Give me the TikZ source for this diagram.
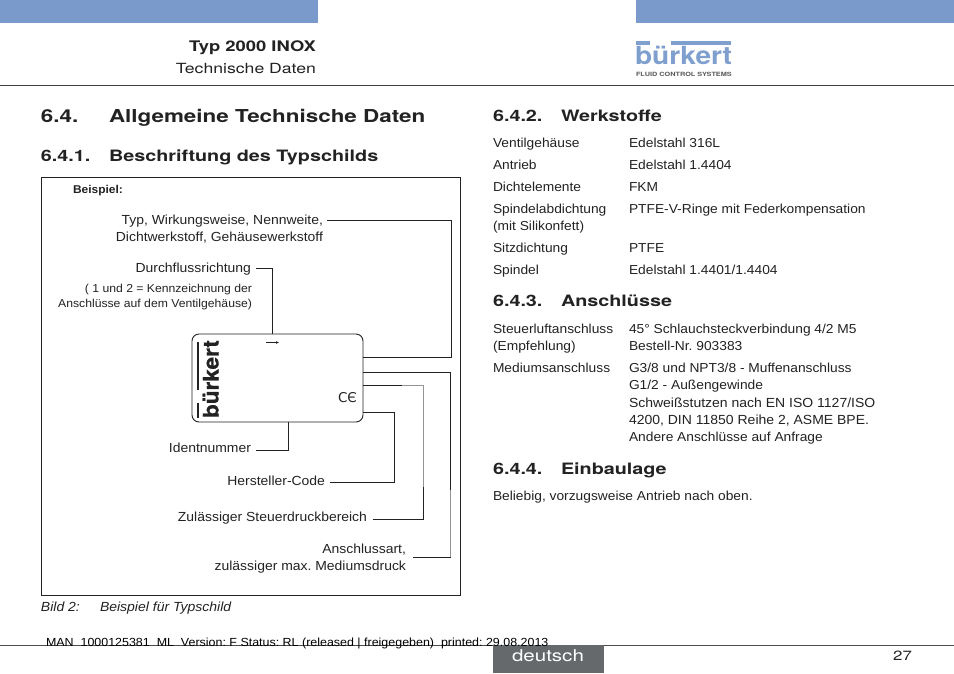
\documentclass[tikz,border=0pt]{standalone}
\usepackage{fontspec}
\usetikzlibrary{arrows.meta}
\setmainfont[FakeStretch=1.06]{Liberation Sans}
\newfontfamily\headfont[FakeStretch=1.26,BoldFont={TeX Gyre Heros Bold}]{TeX Gyre Heros}
\newfontfamily\logofont[FakeStretch=1.125]{TeX Gyre Heros Bold}
\newfontfamily\platefont[FakeStretch=1.05,FakeBold=0.6]{TeX Gyre Heros Bold}
\newfontfamily\cefont{DejaVu Sans}
\definecolor{barblue}{HTML}{7A9ACC}
\definecolor{logoblue}{HTML}{7F9FCF}
\definecolor{footgray}{HTML}{65696C}
\definecolor{ink}{HTML}{222222}
\frenchspacing
\tikzset{
 txt/.style={inner sep=0pt,outer sep=0pt,anchor=base west,text=ink,font=\fontsize{13}{15}\selectfont},
 rtxt/.style={txt,anchor=base east},
 lab/.style={rtxt,font=\fontsize{13.15}{15}\selectfont},
 small/.style={font=\fontsize{11.5}{13}\selectfont},
 head/.style={txt,font=\fontsize{17.8}{20}\headfont\bfseries},
 subhead/.style={txt,font=\fontsize{15.7}{18}\headfont\bfseries},
 lead/.style={line width=0.8pt,ink},
 leadgray/.style={line width=1.3pt,black!42},
}
\begin{document}
\begin{tikzpicture}[x=1pt,y=-1pt]
\useasboundingbox (0,0) rectangle (954,673);
% header
\fill[barblue] (0,0) rectangle (318,23);
\fill[barblue] (636,0) rectangle (954,23);
\draw[line width=0.8pt,black!75] (0,85.5) -- (954,85.5);
\node[rtxt,font=\fontsize{14.6}{15}\headfont\bfseries] (hType) at (316,51.5) {Typ 2000 INOX};
\node[rtxt,font=\fontsize{14}{15}\headfont] (hTech) at (316,73) {Technische Daten};
% header logo
\fill[logoblue] (636,41) rectangle (650,45);
\fill[logoblue] (671,41) rectangle (731,45);
\node[txt,text=logoblue,font=\fontsize{25}{26}\logofont] (hLogo) at (635,64.5) {bürkert};
\node[txt,text=black!65,font=\fontsize{5.8}{7}\headfont\bfseries] (hLogoSub) at (636,76.3) {FLUID CONTROL SYSTEMS};
% section headings
\node[head] (s64) at (41,122) {6.4.};
\node[head] (s64t) at (109,122) {Allgemeine Technische Daten};
\node[subhead] (s641) at (41,161) {6.4.1.};
\node[subhead] (s641t) at (109,161) {Beschriftung des Typschilds};
\node[subhead] (s642) at (493,121) {6.4.2.};
\node[subhead] (s642t) at (561,121) {Werkstoffe};
\node[subhead] (s643) at (493,306) {6.4.3.};
\node[subhead] (s643t) at (561,306) {Anschlüsse};
\node[subhead] (s644) at (493,474) {6.4.4.};
\node[subhead] (s644t) at (561,474) {Einbaulage};
% right column
\node[txt] (a1) at (493,147) {Ventilgehäuse};
\node[txt] (b1) at (629,147) {Edelstahl 316L};
\node[txt] (a2) at (493,169) {Antrieb};
\node[txt] (b2) at (629,169) {Edelstahl 1.4404};
\node[txt] (a3) at (493,191) {Dichtelemente};
\node[txt] (b3) at (629,191) {FKM};
\node[txt] (a4) at (493,213) {Spindelabdichtung};
\node[txt] (b4) at (629,213) {PTFE-V-Ringe mit Federkompensation};
\node[txt] (a4b) at (493,230) {(mit Silikonfett)};
\node[txt] (a5) at (493,252) {Sitzdichtung};
\node[txt] (b5) at (629,252) {PTFE};
\node[txt] (a6) at (493,274) {Spindel};
\node[txt] (b6) at (629,274) {Edelstahl 1.4401/1.4404};
\node[txt] (c1) at (493,333) {Steuerluftanschluss};
\node[txt] (d1) at (629,333) {45° Schlauchsteckverbindung 4/2 M5};
\node[txt] (c1b) at (493,350) {(Empfehlung)};
\node[txt] (d1b) at (629,350) {Bestell-Nr. 903383};
\node[txt] (c2) at (493,372) {Mediumsanschluss};
\node[txt] (d2) at (629,372) {G3/8 und NPT3/8 - Muffenanschluss};
\node[txt] (d3) at (629,389) {G1/2 - Außengewinde};
\node[txt,font=\fontsize{13.2}{15}\selectfont] (d4) at (629,407) {Schweißstutzen nach EN ISO 1127/ISO};
\node[txt,font=\fontsize{13.2}{15}\selectfont] (d5) at (629,424) {4200, DIN 11850 Reihe 2, ASME BPE.};
\node[txt] (d6) at (629,441) {Andere Anschlüsse auf Anfrage};
\node[txt] (e1) at (493,500) {Beliebig, vorzugsweise Antrieb nach oben.};
% figure frame
\draw[line width=0.9pt,ink] (41.7,177.5) rectangle (460.3,595.5);
\node[txt,font=\fontsize{11.3}{13}\selectfont\bfseries] (lBsp) at (73,193) {Beispiel:};
\node[lab] (lTyp) at (323,224.5) {Typ, Wirkungsweise, Nennweite,};
\node[lab] (lTyp2) at (323,241) {Dichtwerkstoff, Gehäusewerkstoff};
\node[lab] (lDurch) at (251,272.5) {Durchflussrichtung};
\node[rtxt,small] (lAns1) at (252,292) {( 1 und 2 = Kennzeichnung der};
\node[rtxt,small] (lAns2) at (252,307) {Anschlüsse auf dem Ventilgehäuse)};
\node[lab] (lId) at (251,452) {Identnummer};
\node[lab] (lHer) at (325,485) {Hersteller-Code};
\node[lab] (lZul) at (367,521.5) {Zulässiger Steuerdruckbereich};
\node[lab] (lAnsch) at (406,553.5) {Anschlussart,};
\node[lab] (lMax) at (406,570) {zulässiger max. Mediumsdruck};
% type plate
\node[draw=ink,line width=0.9pt,rounded corners=7pt,minimum width=171pt,minimum height=88pt,inner sep=0pt,outer sep=0pt,anchor=north west] (plate) at (192,334) {};
\fill[ink] (197,341.5) rectangle (199,390);
\fill[ink] (197,403) rectangle (199,417.5);
\node[inner sep=0pt,outer sep=0pt,rotate=90,anchor=base west,text=ink,font=\fontsize{21.5}{22}\platefont] (pLogo) at (218.5,418) {bürkert};
\coordinate (arrS) at (266,342.5);
\coordinate (arrE) at (279,342.5);
\draw[-{Latex[length=3pt,width=2.6pt]},line width=0.4pt,ink] (arrS) -- (arrE);
\node[inner sep=0pt,text=ink,font=\fontsize{13.5}{14}\cefont] (ce) at (347.5,398) {CЄ};
% bend points
\coordinate (kTyp) at (451.7,357.3);
\coordinate (kDurch) at (272.3,334);
\coordinate (kId) at (288,450);
\coordinate (kHer) at (394.3,412.3);
\coordinate (kZul) at (423.3,385.7);
\coordinate (kAns) at (450.7,372);
\coordinate (eTyp) at (327,220.8);
\coordinate (eDurch) at (256,268.7);
\coordinate (eId) at (256,450.3);
\coordinate (eHer) at (330,482.3);
\coordinate (eZul) at (372.5,519.3);
\coordinate (eAns) at (413.3,557.3);
\coordinate (gZul1) at (402,385.7);
\coordinate (gZul2) at (423.3,487);
\coordinate (gAns1) at (450.7,490);
\coordinate (gAns2) at (450.7,557.3);
% connectors
\draw[lead] (eTyp) -| (kTyp) -- (kTyp -| plate.east);
\draw[lead] (eDurch) -| (kDurch);
\draw[lead] (eId) -| (kId |- plate.south);
\draw[lead] (eHer) -| (kHer) -- (kHer -| plate.east);
\draw[lead] (eZul) -| (kZul) -- (kZul -| plate.east);
\draw[lead] (eAns) -| (kAns) -- (kAns -| plate.east);
\draw[leadgray] (gZul1) -- (kZul) -- (gZul2);
\draw[leadgray] (gAns1) -- (gAns2);
% caption
\node[txt,font=\fontsize{13.2}{15}\selectfont\itshape] (cap1) at (41,611) {Bild 2:};
\node[txt,font=\fontsize{13.2}{15}\selectfont\itshape] (cap2) at (100,611) {Beispiel für Typschild};
% footer
\draw[line width=0.8pt,black!70] (0,645.5) -- (954,645.5);
\fill[footgray] (493,645) rectangle (604,673);
\node[txt,text=white,font=\fontsize{16.3}{17}\headfont] (fDe) at (512,661) {deutsch};
\node[rtxt,font=\fontsize{13.4}{15}\headfont] (fPage) at (912,660) {27};
\node[txt,font=\fontsize{11.75}{13}\selectfont,text=black] (fMan) at (46,646.5) {MAN\ \ 1000125381\ \ ML\ \ Version: F Status: RL (released | freigegeben)\ \ printed: 29.08.2013};
\end{tikzpicture}
\end{document}
